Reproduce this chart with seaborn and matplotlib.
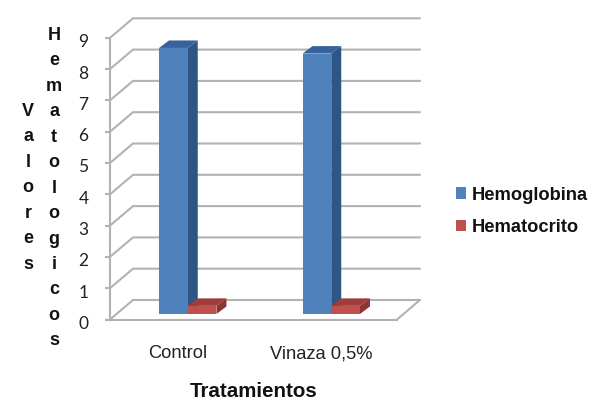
import matplotlib
matplotlib.use('Agg')
import matplotlib.pyplot as plt
import matplotlib.transforms as mtransforms
from matplotlib.patches import Polygon
import pandas as pd
import seaborn as sns

# datos
tratamientos = ['Control', 'Vinaza 0,5%']
hemoglobina = [8.5, 8.32]
hematocrito = [0.26, 0.26]
valores_y = [0, 1, 2, 3, 4, 5, 6, 7, 8, 9]

azul, azul_lado, azul_tope = '#4F81BD', '#2F5587', '#38629B'
rojo, rojo_lado, rojo_tope = '#C0504D', '#8A3533', '#A03C3A'
gris = '#B2B2B2'

sns.set_style('white')
plt.rcParams['font.family'] = ['Liberation Sans', 'DejaVu Sans']

df = pd.DataFrame({
    'Tratamiento': tratamientos * 2,
    'Valor': hemoglobina + hematocrito,
    'Serie': ['Hemoglobina'] * 2 + ['Hematocrito'] * 2,
})

W, H = 600, 407
fig = plt.figure(figsize=(W / 100, H / 100), dpi=100)
# plano frontal del piso: x 110-397, y0 en 319.5, 31.3 px por unidad
ax = fig.add_axes([110 / W, (H - 319.5) / H, 287 / W, 281.7 / H])
ax.patch.set_alpha(0)

sns.barplot(data=df, x='Tratamiento', y='Valor', hue='Serie',
            palette=[azul, rojo], width=0.4, saturation=1, linewidth=0, ax=ax)
ax.set_xlim(-0.5, 1.5)
ax.set_ylim(0, 9)

ident = mtransforms.IdentityTransform()
to_px = ax.transData.transform

# paredes: fondo desplazado 23 px a la derecha y 19.5 px arriba
fondo = (23, 19.5)
for v in valores_y:
    x0, y0 = to_px((-0.5, v))
    x1, _ = to_px((1.5, v))
    ax.plot([x0, x0 + fondo[0], x1 + fondo[0]], [y0, y0 + fondo[1], y0 + fondo[1]],
            color=gris, lw=1.5, transform=ident, clip_on=False, zorder=1)
x1, y0 = to_px((1.5, 0))
ax.plot([x1, x1 + fondo[0]], [y0, y0 + fondo[1]], color=gris, lw=1.5,
        transform=ident, clip_on=False, zorder=1)

# barras en mitad de la profundidad, con cara lateral y superior
centro = mtransforms.Affine2D().translate(6, 5.5)
prof = (10, 7.5)
colores = [(azul_lado, azul_tope), (rojo_lado, rojo_tope)]
for i, cont in enumerate(ax.containers):
    lado, tope = colores[i]
    for bar in cont:
        bar.set_transform(ax.transData + centro)
        bar.set_zorder(4)
        xa = bar.get_x()
        xb = xa + bar.get_width()
        h = bar.get_height()
        (pxa, py0), (pxb, py1) = centro.transform(to_px([(xa, 0), (xb, h)]))
        dx, dy = prof
        z = 3 + i * 0.5
        ax.add_patch(Polygon([(pxb, py0), (pxb + dx, py0 + dy), (pxb + dx, py1 + dy), (pxb, py1)],
                             closed=True, fc=lado, ec='none', transform=ident, clip_on=False, zorder=z))
        ax.add_patch(Polygon([(pxa, py1), (pxb, py1), (pxb + dx, py1 + dy), (pxa + dx, py1 + dy)],
                             closed=True, fc=tope, ec='none', transform=ident, clip_on=False, zorder=z))

sns.despine(ax=ax, top=True, right=True)
for s in ['left', 'bottom']:
    ax.spines[s].set_color(gris)
    ax.spines[s].set_linewidth(1.5)

ax.set_yticks(valores_y)
ax.tick_params(axis='y', left=True, length=3.5, width=1.5, color=gris, pad=12, labelsize=12.5,
               labelcolor='#222222')
for t in ax.get_yticklabels():
    t.set_family(['Lato', 'DejaVu Sans'])
    t.set_transform(t.get_transform() + mtransforms.Affine2D().translate(0, -3))
ax.tick_params(axis='x', bottom=False, pad=15, labelsize=13.2, labelcolor='#222222')
for t in ax.get_xticklabels():
    t.set_transform(t.get_transform() + mtransforms.Affine2D().translate(-4, 0))

ax.set_xlabel('Tratamientos', fontsize=14.8, fontweight='bold', color='#111111', labelpad=14.5)
ax.set_ylabel('')

# titulos del eje y, letra por letra
fig.text(28 / W, 1 - 103 / H, '\n'.join('Valores'), ha='center', va='top', fontsize=13,
         fontweight='bold', color='#111111', linespacing=1.65)
fig.text(54 / W, 1 - 27 / H, '\n'.join('Hematologicos'), ha='center', va='top', fontsize=13,
         fontweight='bold', color='#111111', linespacing=1.65)

ax.legend(loc='upper left', bbox_to_anchor=(439 / W, 1 - 170 / H), bbox_transform=fig.transFigure,
          frameon=False, prop={'size': 13.2, 'weight': 'bold'}, handlelength=0.55, handleheight=0.55,
          handletextpad=0.33, labelspacing=0.85, borderpad=0.4, labelcolor='#111111')

fig.savefig('out.png', dpi=100)
